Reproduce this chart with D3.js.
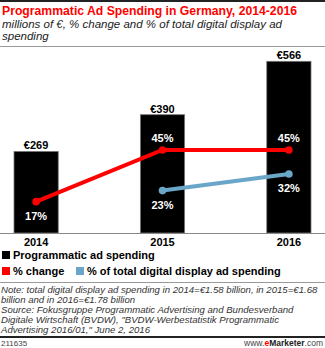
<!DOCTYPE html>
<html>
<head>
<meta charset="utf-8">
<script src="https://cdn.jsdelivr.net/npm/d3@7"></script>
<style>
  body { margin: 0; background: #fff; }
  svg { display: block; font-family: "Liberation Sans", Arial, sans-serif; }
</style>
</head>
<body>
<div class="chart"></div>
<script>
// chart data
var years = ["2014", "2015", "2016"];
var spending = [269, 390, 566];
var pctChange = [17, 45, 45];
var pctYears = ["2014", "2015", "2016"];
var pctOfTotal = [23, 32];
var pctOfTotalYears = ["2015", "2016"];
var noteLines = [
  "Note: total digital display ad spending in 2014=€1.58 billion, in 2015=€1.68",
  "billion and in 2016=€1.78 billion",
  "Source: Fokusgruppe Programmatic Advertising and Bundesverband",
  "Digitale Wirtschaft (BVDW), \"BVDW-Werbestatistik Programmatic",
  "Advertising 2016/01,\" June 2, 2016"
];

var w = 325, h = 348;
var red = "#ff0000", blue = "#6aa6c8";

var svg = d3.select(".chart").append("svg")
  .attr("width", w).attr("height", h);

// header
svg.append("rect").attr("x", 0).attr("y", 0).attr("width", w).attr("height", 2).attr("fill", "#222");
svg.append("text").attr("x", 2).attr("y", 15)
  .attr("fill", red).style("font-size", "13px").style("font-weight", "bold")
  .attr("textLength", 295).attr("lengthAdjust", "spacingAndGlyphs")
  .text("Programmatic Ad Spending in Germany, 2014-2016");
svg.append("text").attr("x", 2).attr("y", 28)
  .style("font-size", "11.5px").style("font-style", "italic").attr("fill", "#222")
  .text("millions of €, % change and % of total digital display ad");
svg.append("text").attr("x", 2).attr("y", 40)
  .style("font-size", "11.5px").style("font-style", "italic").attr("fill", "#222")
  .text("spending");
svg.append("line").attr("x1", 0).attr("x2", w).attr("y1", 46.5).attr("y2", 46.5)
  .attr("stroke", "#999").attr("stroke-width", 1);

// scales
var x = d3.scaleBand().domain(years).range([14, 311]).paddingInner(0.65).paddingOuter(0);
var y = d3.scaleLinear().domain([0, 600]).range([233, 51]);
var yPct = d3.scaleLinear().domain([0, 50]).range([233, 140.8]);

// bars
svg.selectAll("rect.bar")
  .data(spending)
  .enter()
  .append("rect")
  .attr("class", "bar")
  .attr("x", function(d, i){ return x(years[i]); })
  .attr("y", function(d){ return y(d); })
  .attr("width", x.bandwidth())
  .attr("height", function(d){ return y(0) - y(d); })
  .attr("fill", "#000")
  .attr("stroke", "#777")
  .attr("stroke-width", 0.8);

svg.selectAll("text.val")
  .data(spending)
  .enter()
  .append("text")
  .attr("class", "val")
  .attr("x", function(d, i){ return x(years[i]) + x.bandwidth() / 2; })
  .attr("y", function(d){ return y(d) - 2; })
  .attr("text-anchor", "middle")
  .style("font-size", "11px").style("font-weight", "bold")
  .text(function(d){ return "€" + d; });

// baseline and x axis
svg.append("line").attr("x1", 0).attr("x2", w).attr("y1", 233.5).attr("y2", 233.5)
  .attr("stroke", "#888").attr("stroke-width", 1);

var xAxis = d3.axisBottom(x).tickSize(0).tickPadding(5);
svg.append("g")
  .attr("transform", "translate(0,233)")
  .call(xAxis)
  .call(function(g){ g.select(".domain").remove(); })
  .selectAll("text")
  .style("font-size", "11px").style("font-weight", "bold")
  .style("font-family", "Liberation Sans, Arial, sans-serif")
  .attr("fill", "#000");

// lines
function cx(yr){ return x(yr) + x.bandwidth() / 2; }

var lineChange = d3.line()
  .x(function(d, i){ return cx(pctYears[i]); })
  .y(function(d){ return yPct(d); });
var lineTotal = d3.line()
  .x(function(d, i){ return cx(pctOfTotalYears[i]); })
  .y(function(d){ return yPct(d); });

svg.append("path").datum(pctOfTotal).attr("d", lineTotal)
  .attr("fill", "none").attr("stroke", blue).attr("stroke-width", 4);
svg.append("path").datum(pctChange).attr("d", lineChange)
  .attr("fill", "none").attr("stroke", red).attr("stroke-width", 4);

svg.selectAll("circle.total").data(pctOfTotal).enter().append("circle")
  .attr("cx", function(d, i){ return cx(pctOfTotalYears[i]); })
  .attr("cy", function(d){ return yPct(d); })
  .attr("r", 3.8).attr("fill", blue);
svg.selectAll("circle.change").data(pctChange).enter().append("circle")
  .attr("cx", function(d, i){ return cx(pctYears[i]); })
  .attr("cy", function(d){ return yPct(d); })
  .attr("r", 3.8).attr("fill", red);

// point labels: the first % change label sits under its point, the rest above
svg.selectAll("text.chg").data(pctChange).enter().append("text")
  .attr("x", function(d, i){ return cx(pctYears[i]); })
  .attr("y", function(d, i){ return i == 0 ? yPct(d) + 18 : yPct(d) - 8; })
  .attr("text-anchor", "middle").attr("fill", "#fff")
  .style("font-size", "11px").style("font-weight", "bold")
  .text(function(d){ return d + "%"; });
svg.selectAll("text.tot").data(pctOfTotal).enter().append("text")
  .attr("x", function(d, i){ return cx(pctOfTotalYears[i]); })
  .attr("y", function(d){ return yPct(d) + 18; })
  .attr("text-anchor", "middle").attr("fill", "#fff")
  .style("font-size", "11px").style("font-weight", "bold")
  .text(function(d){ return d + "%"; });

// legend
var legend = [
  {label: "Programmatic ad spending", color: "#000", x: 2, y: 255},
  {label: "% change", color: red, x: 2, y: 271},
  {label: "% of total digital display ad spending", color: blue, x: 76, y: 271}
];
var lg = svg.selectAll("g.legend").data(legend).enter().append("g")
  .attr("transform", function(d){ return "translate(" + d.x + "," + d.y + ")"; });
lg.append("rect").attr("x", 0).attr("y", -4).attr("width", 8).attr("height", 8)
  .attr("fill", function(d){ return d.color; });
lg.append("text").attr("x", 11).attr("y", 4)
  .style("font-size", "11px").style("font-weight", "bold")
  .text(function(d){ return d.label; });

// notes
svg.append("line").attr("x1", 0).attr("x2", w).attr("y1", 282.5).attr("y2", 282.5)
  .attr("stroke", "#999").attr("stroke-width", 1);
svg.selectAll("text.note").data(noteLines).enter().append("text")
  .attr("x", 1).attr("y", function(d, i){ return 293 + i * 10; })
  .style("font-size", "9.6px").style("font-style", "italic").attr("fill", "#333")
  .text(function(d){ return d; });

svg.append("rect").attr("x", 0).attr("y", 336).attr("width", w).attr("height", 2).attr("fill", "#222");
svg.append("text").attr("x", 1).attr("y", 346)
  .style("font-size", "8px").attr("fill", "#444").text("211635");
var brand = svg.append("text").attr("x", w - 2).attr("y", 346).attr("text-anchor", "end")
  .style("font-size", "8.5px").attr("fill", "#444");
brand.append("tspan").text("www.");
brand.append("tspan").attr("fill", red).style("font-weight", "bold").text("e");
brand.append("tspan").attr("fill", "#222").style("font-weight", "bold").text("Marketer");
brand.append("tspan").text(".com");
</script>
</body>
</html>
